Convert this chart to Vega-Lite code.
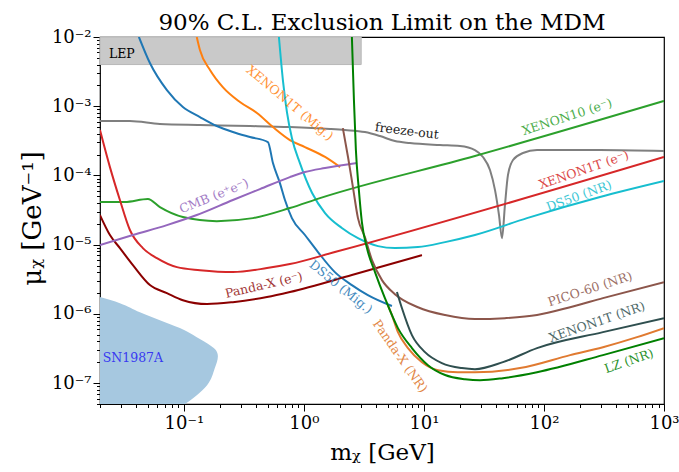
{
"$schema": "https://vega.github.io/schema/vega-lite/v6.json",
"width": 564, "height": 367,
"autosize": "none",
"padding": {"left": 100, "top": 37, "right": 15, "bottom": 68},
"background": "white",
"title": {"text": "90% C.L. Exclusion Limit on the MDM", "font": "DejaVu Serif", "fontSize": 23, "fontWeight": "normal", "color": "black", "anchor": "middle", "baseline": "bottom", "offset": 3, "dy": 33, "frame": "group"},
"config": {"view": {"stroke": "black", "strokeWidth": 1.2}},
"datasets": {
"curves": [
{"s":"freeze-out","x":0.02,"y":6.11e-4},{"s":"freeze-out","x":0.0355,"y":6.11e-4},{"s":"freeze-out","x":0.0631,"y":5.53e-4},{"s":"freeze-out","x":0.136,"y":5.35e-4},{"s":"freeze-out","x":0.355,"y":5.18e-4},{"s":"freeze-out","x":0.764,"y":5.0e-4},{"s":"freeze-out","x":1.65,"y":4.69e-4},{"s":"freeze-out","x":2.2,"y":4.53e-4},{"s":"freeze-out","x":3.22,"y":4.24e-4},{"s":"freeze-out","x":4.3,"y":3.71e-4},{"s":"freeze-out","x":5.73,"y":3.14e-4},{"s":"freeze-out","x":7.64,"y":2.94e-4},{"s":"freeze-out","x":13.6,"y":2.75e-4},{"s":"freeze-out","x":19.95,"y":2.66e-4},{"s":"freeze-out","x":26.6,"y":2.33e-4},{"s":"freeze-out","x":31.0,"y":1.85e-4},{"s":"freeze-out","x":35.5,"y":1.2e-4},{"s":"freeze-out","x":39.1,"y":6.15e-5},{"s":"freeze-out","x":42.2,"y":2.68e-5},{"s":"freeze-out","x":44.7,"y":1.24e-5},{"s":"freeze-out","x":47.3,"y":3.73e-5},{"s":"freeze-out","x":50.1,"y":1.01e-4},{"s":"freeze-out","x":55.2,"y":1.67e-4},{"s":"freeze-out","x":66.8,"y":2.11e-4},{"s":"freeze-out","x":87.5,"y":2.33e-4},{"s":"freeze-out","x":293,"y":2.33e-4},{"s":"freeze-out","x":1000,"y":2.25e-4},
{"s":"DS50 (Mig.)","x":0.0422,"y":0.01},{"s":"DS50 (Mig.)","x":0.0521,"y":4.21e-3},{"s":"DS50 (Mig.)","x":0.0722,"y":1.71e-3},{"s":"DS50 (Mig.)","x":0.0981,"y":9.73e-4},{"s":"DS50 (Mig.)","x":0.136,"y":6.98e-4},{"s":"DS50 (Mig.)","x":0.188,"y":5.18e-4},{"s":"DS50 (Mig.)","x":0.256,"y":4.24e-4},{"s":"DS50 (Mig.)","x":0.355,"y":3.59e-4},{"s":"DS50 (Mig.)","x":0.501,"y":3.04e-4},{"s":"DS50 (Mig.)","x":0.552,"y":1.51e-4},{"s":"DS50 (Mig.)","x":0.631,"y":7.76e-5},{"s":"DS50 (Mig.)","x":0.695,"y":4.42e-5},{"s":"DS50 (Mig.)","x":0.794,"y":2.42e-5},{"s":"DS50 (Mig.)","x":1.02,"y":1.38e-5},{"s":"DS50 (Mig.)","x":1.31,"y":7.82e-6},{"s":"DS50 (Mig.)","x":1.81,"y":4.02e-6},{"s":"DS50 (Mig.)","x":2.51,"y":2.61e-6},{"s":"DS50 (Mig.)","x":3.41,"y":1.87e-6},{"s":"DS50 (Mig.)","x":5.41,"y":1.3e-6},
{"s":"XENON1T (Mig.)","x":0.128,"y":0.01},{"s":"XENON1T (Mig.)","x":0.136,"y":6.49e-3},{"s":"XENON1T (Mig.)","x":0.165,"y":3.34e-3},{"s":"XENON1T (Mig.)","x":0.211,"y":1.89e-3},{"s":"XENON1T (Mig.)","x":0.293,"y":1.15e-3},{"s":"XENON1T (Mig.)","x":0.406,"y":7.98e-4},{"s":"XENON1T (Mig.)","x":0.552,"y":5.0e-4},{"s":"XENON1T (Mig.)","x":0.764,"y":3.25e-4},{"s":"XENON1T (Mig.)","x":1.02,"y":2.57e-4},{"s":"XENON1T (Mig.)","x":1.5,"y":1.85e-4},{"s":"XENON1T (Mig.)","x":2.0,"y":1.32e-4},
{"s":"DS50 (NR)","x":0.619,"y":0.01},{"s":"DS50 (NR)","x":0.668,"y":2.39e-3},{"s":"DS50 (NR)","x":0.722,"y":8.24e-4},{"s":"DS50 (NR)","x":0.794,"y":3.47e-4},{"s":"DS50 (NR)","x":0.926,"y":1.51e-4},{"s":"DS50 (NR)","x":1.17,"y":5.57e-5},{"s":"DS50 (NR)","x":1.5,"y":2.86e-5},{"s":"DS50 (NR)","x":2.07,"y":1.74e-5},{"s":"DS50 (NR)","x":2.82,"y":1.24e-5},{"s":"DS50 (NR)","x":4.14,"y":9.54e-6},{"s":"DS50 (NR)","x":5.73,"y":8.93e-6},{"s":"DS50 (NR)","x":8.91,"y":9.23e-6},{"s":"DS50 (NR)","x":15.0,"y":1.09e-5},{"s":"DS50 (NR)","x":26.6,"y":1.38e-5},{"s":"DS50 (NR)","x":72.2,"y":2.42e-5},{"s":"DS50 (NR)","x":293,"y":4.88e-5},{"s":"DS50 (NR)","x":1000,"y":8.3e-5},
{"s":"XENON10 (e−)","x":0.02,"y":4.13e-5},{"s":"XENON10 (e−)","x":0.0322,"y":4.13e-5},{"s":"XENON10 (e−)","x":0.0501,"y":4.56e-5},{"s":"XENON10 (e−)","x":0.0631,"y":3.49e-5},{"s":"XENON10 (e−)","x":0.0981,"y":2.51e-5},{"s":"XENON10 (e−)","x":0.188,"y":2.19e-5},{"s":"XENON10 (e−)","x":0.376,"y":2.42e-5},{"s":"XENON10 (e−)","x":0.764,"y":3.38e-5},{"s":"XENON10 (e−)","x":1.36,"y":4.71e-5},{"s":"XENON10 (e−)","x":26.6,"y":1.91e-4},{"s":"XENON10 (e−)","x":1000,"y":1.19e-3},
{"s":"XENON1T (e−)","x":0.02,"y":4.53e-4},{"s":"XENON1T (e−)","x":0.0242,"y":1.32e-4},{"s":"XENON1T (e−)","x":0.0293,"y":4.42e-5},{"s":"XENON1T (e−)","x":0.0355,"y":1.63e-5},{"s":"XENON1T (e−)","x":0.0455,"y":8.93e-6},{"s":"XENON1T (e−)","x":0.0596,"y":6.4e-6},{"s":"XENON1T (e−)","x":0.0875,"y":4.74e-6},{"s":"XENON1T (e−)","x":0.136,"y":4.29e-6},{"s":"XENON1T (e−)","x":0.256,"y":4.02e-6},{"s":"XENON1T (e−)","x":0.492,"y":4.59e-6},{"s":"XENON1T (e−)","x":0.764,"y":5.25e-6},{"s":"XENON1T (e−)","x":1.81,"y":7.82e-6},{"s":"XENON1T (e−)","x":1000,"y":1.85e-4},
{"s":"Panda-X (e−)","x":0.02,"y":2.68e-5},{"s":"Panda-X (e−)","x":0.0242,"y":1.38e-5},{"s":"Panda-X (e−)","x":0.0293,"y":8.93e-6},{"s":"Panda-X (e−)","x":0.0376,"y":5.07e-6},{"s":"Panda-X (e−)","x":0.0521,"y":2.61e-6},{"s":"Panda-X (e−)","x":0.0722,"y":2.0e-6},{"s":"Panda-X (e−)","x":0.0981,"y":1.58e-6},{"s":"Panda-X (e−)","x":0.156,"y":1.39e-6},{"s":"Panda-X (e−)","x":0.256,"y":1.48e-6},{"s":"Panda-X (e−)","x":0.492,"y":1.75e-6},{"s":"Panda-X (e−)","x":0.764,"y":2.07e-6},{"s":"Panda-X (e−)","x":2.51,"y":3.64e-6},{"s":"Panda-X (e−)","x":9.62,"y":7.08e-6},
{"s":"CMB","x":0.02,"y":9.86e-6},{"s":"CMB","x":0.0376,"y":1.38e-5},{"s":"CMB","x":0.0722,"y":1.92e-5},{"s":"CMB","x":0.128,"y":2.68e-5},{"s":"CMB","x":0.256,"y":4.42e-5},{"s":"CMB","x":0.43,"y":6.35e-5},{"s":"CMB","x":0.764,"y":9.48e-5},{"s":"CMB","x":1.02,"y":1.12e-4},{"s":"CMB","x":1.5,"y":1.28e-4},{"s":"CMB","x":2.77,"y":1.51e-4},
{"s":"PICO-60 (NR)","x":2.11,"y":4.84e-4},{"s":"PICO-60 (NR)","x":2.33,"y":1.85e-4},{"s":"PICO-60 (NR)","x":2.56,"y":6.79e-5},{"s":"PICO-60 (NR)","x":2.82,"y":2.42e-5},{"s":"PICO-60 (NR)","x":3.22,"y":1.29e-5},{"s":"PICO-60 (NR)","x":3.69,"y":5.98e-6},{"s":"PICO-60 (NR)","x":4.47,"y":3.08e-6},{"s":"PICO-60 (NR)","x":5.73,"y":1.93e-6},{"s":"PICO-60 (NR)","x":8.91,"y":1.25e-6},{"s":"PICO-60 (NR)","x":15.0,"y":9.62e-7},{"s":"PICO-60 (NR)","x":26.6,"y":8.42e-7},{"s":"PICO-60 (NR)","x":47.3,"y":8.69e-7},{"s":"PICO-60 (NR)","x":87.5,"y":9.62e-7},{"s":"PICO-60 (NR)","x":165,"y":1.25e-6},{"s":"PICO-60 (NR)","x":310,"y":1.69e-6},{"s":"PICO-60 (NR)","x":1000,"y":2.88e-6},
{"s":"XENON1T (NR)","x":5.96,"y":2.07e-6},{"s":"XENON1T (NR)","x":6.56,"y":1.21e-6},{"s":"XENON1T (NR)","x":7.94,"y":4.94e-7},{"s":"XENON1T (NR)","x":10.2,"y":2.81e-7},{"s":"XENON1T (NR)","x":14.1,"y":1.95e-7},{"s":"XENON1T (NR)","x":20.7,"y":1.65e-7},{"s":"XENON1T (NR)","x":26.6,"y":1.59e-7},{"s":"XENON1T (NR)","x":45.5,"y":2.01e-7},{"s":"XENON1T (NR)","x":87.5,"y":3.21e-7},{"s":"XENON1T (NR)","x":310,"y":5.46e-7},{"s":"XENON1T (NR)","x":1000,"y":8.69e-7},
{"s":"Panda-X (NR)","x":5.01,"y":1.34e-6},{"s":"Panda-X (NR)","x":5.41,"y":9.62e-7},{"s":"Panda-X (NR)","x":6.07,"y":5.46e-7},{"s":"Panda-X (NR)","x":7.36,"y":3.21e-7},{"s":"Panda-X (NR)","x":9.62,"y":2.01e-7},{"s":"Panda-X (NR)","x":13.1,"y":1.54e-7},{"s":"Panda-X (NR)","x":19.2,"y":1.44e-7},{"s":"Panda-X (NR)","x":26.6,"y":1.44e-7},{"s":"Panda-X (NR)","x":63.1,"y":1.65e-7},{"s":"Panda-X (NR)","x":165,"y":2.54e-7},{"s":"Panda-X (NR)","x":310,"y":3.31e-7},{"s":"Panda-X (NR)","x":596,"y":4.62e-7},{"s":"Panda-X (NR)","x":1000,"y":6.24e-7},
{"s":"LZ (NR)","x":2.51,"y":0.01},{"s":"LZ (NR)","x":2.61,"y":1.23e-3},{"s":"LZ (NR)","x":2.71,"y":2.33e-4},{"s":"LZ (NR)","x":2.87,"y":6.15e-5},{"s":"LZ (NR)","x":3.04,"y":2.12e-5},{"s":"LZ (NR)","x":3.35,"y":8.93e-6},{"s":"LZ (NR)","x":3.91,"y":4.02e-6},{"s":"LZ (NR)","x":4.73,"y":1.69e-6},{"s":"LZ (NR)","x":6.07,"y":6.24e-7},{"s":"LZ (NR)","x":7.94,"y":3.21e-7},{"s":"LZ (NR)","x":10.8,"y":1.82e-7},{"s":"LZ (NR)","x":15.0,"y":1.31e-7},{"s":"LZ (NR)","x":22.0,"y":1.14e-7},{"s":"LZ (NR)","x":29.3,"y":1.1e-7},{"s":"LZ (NR)","x":45.5,"y":1.18e-7},{"s":"LZ (NR)","x":87.5,"y":1.44e-7},{"s":"LZ (NR)","x":310,"y":2.54e-7},{"s":"LZ (NR)","x":1000,"y":4.47e-7}
],
"sn": [
{"x":0.02,"y":1.75e-6},{"x":0.0293,"y":1.43e-6},{"x":0.043,"y":1.06e-6},{"x":0.0631,"y":8.13e-7},{"x":0.0926,"y":6.24e-7},{"x":0.128,"y":4.62e-7},{"x":0.165,"y":3.54e-7},{"x":0.185,"y":3.0e-7},{"x":0.192,"y":2.45e-7},{"x":0.181,"y":1.65e-7},{"x":0.156,"y":9.35e-8},{"x":0.128,"y":6.71e-8},{"x":0.102,"y":5e-8},{"x":0.085,"y":4e-8}
]
},
"layer": [
{"data": {"values": [{"x":0.02,"x2":3,"y":0.004,"y2":0.01}]},
 "mark": {"type":"rect","fill":"#c9c9c9","stroke":"#b8b8b8","strokeWidth":1},
 "encoding": {
  "x": {"field":"x","type":"quantitative","scale":{"type":"log","domain":[0.02,1000],"nice":false},
   "axis": {"values":[0.02,0.03,0.04,0.05,0.06,0.07,0.08,0.09,0.1,0.2,0.3,0.4,0.5,0.6,0.7,0.8,0.9,1,2,3,4,5,6,7,8,9,10,20,30,40,50,60,70,80,90,100,200,300,400,500,600,700,800,900,1000],
    "labelExpr":"abs(log(datum.value)/LN10 - round(log(datum.value)/LN10)) < 0.01 ? '10' + (round(log(datum.value)/LN10) < 0 ? '⁻' : '') + ['⁰','¹','²','³','⁴','⁵','⁶','⁷','⁸','⁹'][abs(round(log(datum.value)/LN10))] : ''",
    "tickSize":{"condition":{"test":"abs(log(datum.value)/LN10 - round(log(datum.value)/LN10)) < 0.01","value":7},"value":3.5},
    "tickColor":"black","tickWidth":1,"grid":false,"domain":false,"labelOverlap":false,"labelFlush":false,"labelBound":false,
    "labelFont":"DejaVu Serif","labelFontSize":18,"labelColor":"black","labelPadding":3,
    "title":"mᵪ [GeV]","titleFont":"DejaVu Serif","titleFontSize":23,"titleFontWeight":"normal","titleColor":"black","titleX":282,"titleY":55,"titleBaseline":"alphabetic","titleAlign":"center"}},
  "x2": {"field":"x2"},
  "y": {"field":"y","type":"quantitative","scale":{"type":"log","domain":[5e-8,0.01],"nice":false},
   "axis": {"values":[5e-8,6e-8,7e-8,8e-8,9e-8,1e-7,2e-7,3e-7,4e-7,5e-7,6e-7,7e-7,8e-7,9e-7,1e-6,2e-6,3e-6,4e-6,5e-6,6e-6,7e-6,8e-6,9e-6,1e-5,2e-5,3e-5,4e-5,5e-5,6e-5,7e-5,8e-5,9e-5,1e-4,2e-4,3e-4,4e-4,5e-4,6e-4,7e-4,8e-4,9e-4,1e-3,2e-3,3e-3,4e-3,5e-3,6e-3,7e-3,8e-3,9e-3,1e-2],
    "labelExpr":"abs(log(datum.value)/LN10 - round(log(datum.value)/LN10)) < 0.01 ? '10' + (round(log(datum.value)/LN10) < 0 ? '⁻' : '') + ['⁰','¹','²','³','⁴','⁵','⁶','⁷','⁸','⁹'][abs(round(log(datum.value)/LN10))] : ''",
    "tickSize":{"condition":{"test":"abs(log(datum.value)/LN10 - round(log(datum.value)/LN10)) < 0.01","value":7},"value":3.5},
    "tickColor":"black","tickWidth":1,"grid":false,"domain":false,"labelOverlap":false,"labelFlush":false,"labelBound":false,
    "labelFont":"DejaVu Serif","labelFontSize":18,"labelColor":"black","labelPadding":2,
    "title":"μᵪ [GeV⁻¹]","titleFont":"DejaVu Serif","titleFontSize":26,"titleFontWeight":"normal","titleColor":"black","titleX":-60,"titleY":181,"titleAngle":-90,"titleBaseline":"alphabetic","titleAlign":"center"}},
  "y2": {"field":"y2"}
 }},
{"data": {"name":"sn"},
 "mark": {"type":"area","orient":"horizontal","color":"#a6c8e0","clip":true,"interpolate":"monotone"},
 "encoding": {"y":{"field":"y","type":"quantitative"},"x":{"field":"x","type":"quantitative"},"x2":{"datum":0.02}}},
{"data": {"name":"curves"},
 "mark": {"type":"line","strokeWidth":2,"clip":true,"interpolate":"monotone"},
 "encoding": {"x":{"field":"x","type":"quantitative"},"y":{"field":"y","type":"quantitative"},
  "color":{"field":"s","type":"nominal","legend":null,"scale":{"domain":["freeze-out","DS50 (Mig.)","XENON1T (Mig.)","DS50 (NR)","XENON10 (e−)","XENON1T (e−)","Panda-X (e−)","CMB","PICO-60 (NR)","XENON1T (NR)","Panda-X (NR)","LZ (NR)"],"range":["#7f7f7f","#1f77b4","#ff7f0e","#17becf","#2ca02c","#d62728","#8b0000","#9467bd","#8c564b","#2f4f4f","#e07a30","#008000"]}}}},
{"data":{"values":[{"x":0.0304,"y":5.67e-3,"t":"LEP"}]},"mark":{"type":"text","font":"DejaVu Serif","fontSize":12.5,"color":"black"},"encoding":{"x":{"field":"x","type":"quantitative"},"y":{"field":"y","type":"quantitative"},"text":{"field":"t"}}},
{"data":{"values":[{"x":0.0376,"y":2.3e-7,"t":"SN1987A"}]},"mark":{"type":"text","font":"DejaVu Serif","fontSize":12.5,"color":"#3838f0"},"encoding":{"x":{"field":"x","type":"quantitative"},"y":{"field":"y","type":"quantitative"},"text":{"field":"t"}}},
{"data":{"values":[{"x":0.764,"y":1.11e-3,"t":"XENON1T (Mig.)"}]},"mark":{"type":"text","font":"DejaVu Serif","fontSize":12.5,"color":"#ff7f0e","opacity":0.85,"angle":40},"encoding":{"x":{"field":"x","type":"quantitative"},"y":{"field":"y","type":"quantitative"},"text":{"field":"t"}}},
{"data":{"values":[{"x":7.21,"y":4.38e-4,"t":"freeze-out"}]},"mark":{"type":"text","font":"DejaVu Serif","fontSize":12.5,"color":"#222222","angle":7},"encoding":{"x":{"field":"x","type":"quantitative"},"y":{"field":"y","type":"quantitative"},"text":{"field":"t"}}},
{"data":{"values":[{"x":155.5,"y":6.98e-4,"t":"XENON10 (e⁻)"}]},"mark":{"type":"text","font":"DejaVu Serif","fontSize":12.5,"color":"#2ca02c","opacity":0.85,"angle":-18},"encoding":{"x":{"field":"x","type":"quantitative"},"y":{"field":"y","type":"quantitative"},"text":{"field":"t"}}},
{"data":{"values":[{"x":215,"y":1.2e-4,"t":"XENON1T (e⁻)"}]},"mark":{"type":"text","font":"DejaVu Serif","fontSize":12.5,"color":"#d62728","opacity":0.85,"angle":-19},"encoding":{"x":{"field":"x","type":"quantitative"},"y":{"field":"y","type":"quantitative"},"text":{"field":"t"}}},
{"data":{"values":[{"x":196,"y":5.03e-5,"t":"DS50 (NR)"}]},"mark":{"type":"text","font":"DejaVu Serif","fontSize":12.5,"color":"#17becf","opacity":0.85,"angle":-20},"encoding":{"x":{"field":"x","type":"quantitative"},"y":{"field":"y","type":"quantitative"},"text":{"field":"t"}}},
{"data":{"values":[{"x":0.178,"y":5.03e-5,"t":"CMB (e⁺e⁻)"}]},"mark":{"type":"text","font":"DejaVu Serif","fontSize":12.5,"color":"#9467bd","opacity":0.85,"angle":-22},"encoding":{"x":{"field":"x","type":"quantitative"},"y":{"field":"y","type":"quantitative"},"text":{"field":"t"}}},
{"data":{"values":[{"x":0.464,"y":2.61e-6,"t":"Panda-X (e⁻)"}]},"mark":{"type":"text","font":"DejaVu Serif","fontSize":12.5,"color":"#8b0000","opacity":0.8,"angle":-13},"encoding":{"x":{"field":"x","type":"quantitative"},"y":{"field":"y","type":"quantitative"},"text":{"field":"t"}}},
{"data":{"values":[{"x":2.03,"y":2.44e-6,"t":"DS50 (Mig.)"}]},"mark":{"type":"text","font":"DejaVu Serif","fontSize":12.5,"color":"#1f77b4","opacity":0.85,"angle":39},"encoding":{"x":{"field":"x","type":"quantitative"},"y":{"field":"y","type":"quantitative"},"text":{"field":"t"}}},
{"data":{"values":[{"x":6.31,"y":2.45e-7,"t":"Panda-X (NR)"}]},"mark":{"type":"text","font":"DejaVu Serif","fontSize":12.5,"color":"#e07a30","opacity":0.9,"angle":55},"encoding":{"x":{"field":"x","type":"quantitative"},"y":{"field":"y","type":"quantitative"},"text":{"field":"t"}}},
{"data":{"values":[{"x":242,"y":2.28e-6,"t":"PICO-60 (NR)"}]},"mark":{"type":"text","font":"DejaVu Serif","fontSize":12.5,"color":"#8c564b","opacity":0.85,"angle":-18},"encoding":{"x":{"field":"x","type":"quantitative"},"y":{"field":"y","type":"quantitative"},"text":{"field":"t"}}},
{"data":{"values":[{"x":277,"y":7.62e-7,"t":"XENON1T (NR)"}]},"mark":{"type":"text","font":"DejaVu Serif","fontSize":12.5,"color":"#2f4f4f","opacity":0.85,"angle":-19},"encoding":{"x":{"field":"x","type":"quantitative"},"y":{"field":"y","type":"quantitative"},"text":{"field":"t"}}},
{"data":{"values":[{"x":511,"y":2.08e-7,"t":"LZ (NR)"}]},"mark":{"type":"text","font":"DejaVu Serif","fontSize":12.5,"color":"#008000","opacity":0.85,"angle":-19},"encoding":{"x":{"field":"x","type":"quantitative"},"y":{"field":"y","type":"quantitative"},"text":{"field":"t"}}}
]
}
